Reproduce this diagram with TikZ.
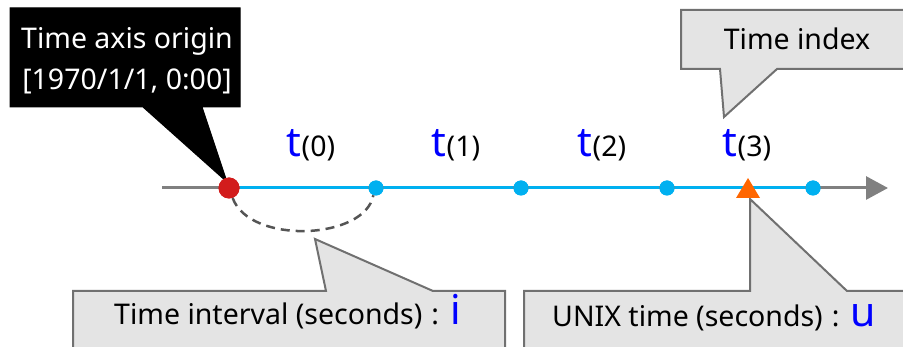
\documentclass[tikz,border=0pt]{standalone}
\usepackage{fontspec}
\setmainfont{Noto Sans}
\usetikzlibrary{arrows.meta}
\definecolor{axisgray}{HTML}{808080}
\definecolor{lineblue}{HTML}{00B0F0}
\definecolor{dotred}{HTML}{D21C1C}
\definecolor{triorange}{HTML}{FF6600}
\definecolor{callfill}{HTML}{E4E4E4}
\definecolor{callline}{HTML}{707070}
\definecolor{dashgray}{HTML}{555555}
\tikzset{
  callout/.style={fill=callfill,draw=callline,line width=2pt,line join=miter},
  blackcall/.style={fill=black,draw=black,line width=1pt},
  bluedot/.style={circle,fill=lineblue,inner sep=0pt,minimum size=15pt},
  reddot/.style={circle,fill=dotred,inner sep=0pt,minimum size=21pt},
  txt/.style={font=\fontsize{28.5}{34}\selectfont,inner sep=0pt,anchor=base},
}
\newcommand{\tvar}[1]{{\fontsize{41}{41}\selectfont\color{blue}#1}}
\newcommand{\sep}{\hspace{9pt}:\hspace{11pt}}
\begin{document}
\begin{tikzpicture}[x=1pt,y=-1pt]
\useasboundingbox (0,0) rectangle (903,347);
\clip (0,0) rectangle (903,347);
% callouts
\draw[blackcall] (10,8) -- (240,8) -- (240,107) -- (202,107) -- (227,182) -- (143,107) -- (10,107) -- cycle;
\node[txt,text=white] (origin1) at (127,49) {Time axis origin};
\node[txt,text=white] (origin2) at (127,90) {[1970/1/1, 0:00]};
\draw[callout] (681,10) -- (915,10) -- (915,69) -- (777,69) -- (724,117) -- (720,69) -- (681,69) -- cycle;
\node[txt] (tindex) at (797,50) {Time index};
\draw[callout] (73,291) -- (326,291) -- (315,239) -- (433,291) -- (505,291) -- (505,360) -- (73,360) -- cycle;
\node[txt,anchor=base west] (interval) at (114,325) {Time interval (seconds)\sep\tvar{i}};
\draw[callout] (524,291) -- (750,291) -- (750,199) -- (847,291) -- (915,291) -- (915,360) -- (524,360) -- cycle;
\node[txt,anchor=base west] (unix) at (552,327) {UNIX time (seconds)\sep\tvar{u}};
% axis
\coordinate (start) at (162,188);
\coordinate (tip) at (888,188);
\draw[axisgray,line width=3pt,-{Triangle[length=22pt,width=23pt]}] (start) -- (tip);
\node[reddot] (o) at (229,188) {};
\node[bluedot] (d1) at (376,188) {};
\node[bluedot] (d2) at (521,188) {};
\node[bluedot] (d3) at (667,188) {};
\node[bluedot] (d4) at (813,188) {};
\draw[lineblue,line width=3pt] (o) -- (d1) -- (d2) -- (d3) -- (d4);
\node[reddot] at (o) {};
\foreach \d in {d1,d2,d3,d4} \node[bluedot] at (\d) {};
% triangle marker
\fill[triorange] (748,178) -- (760,198) -- (736,198) -- cycle;
% dashed arc
\draw[dashgray,line width=2.5pt,dash pattern=on 9pt off 6pt] (o.-70) .. controls (250,245) and (365,240) .. (d1.-110);
% labels
\node[txt] (t0) at (311,157) {\tvar{t}(0)};
\node[txt] (t1) at (456,157) {\tvar{t}(1)};
\node[txt] (t2) at (602,157) {\tvar{t}(2)};
\node[txt] (t3) at (747,157) {\tvar{t}(3)};
\end{tikzpicture}
\end{document}
